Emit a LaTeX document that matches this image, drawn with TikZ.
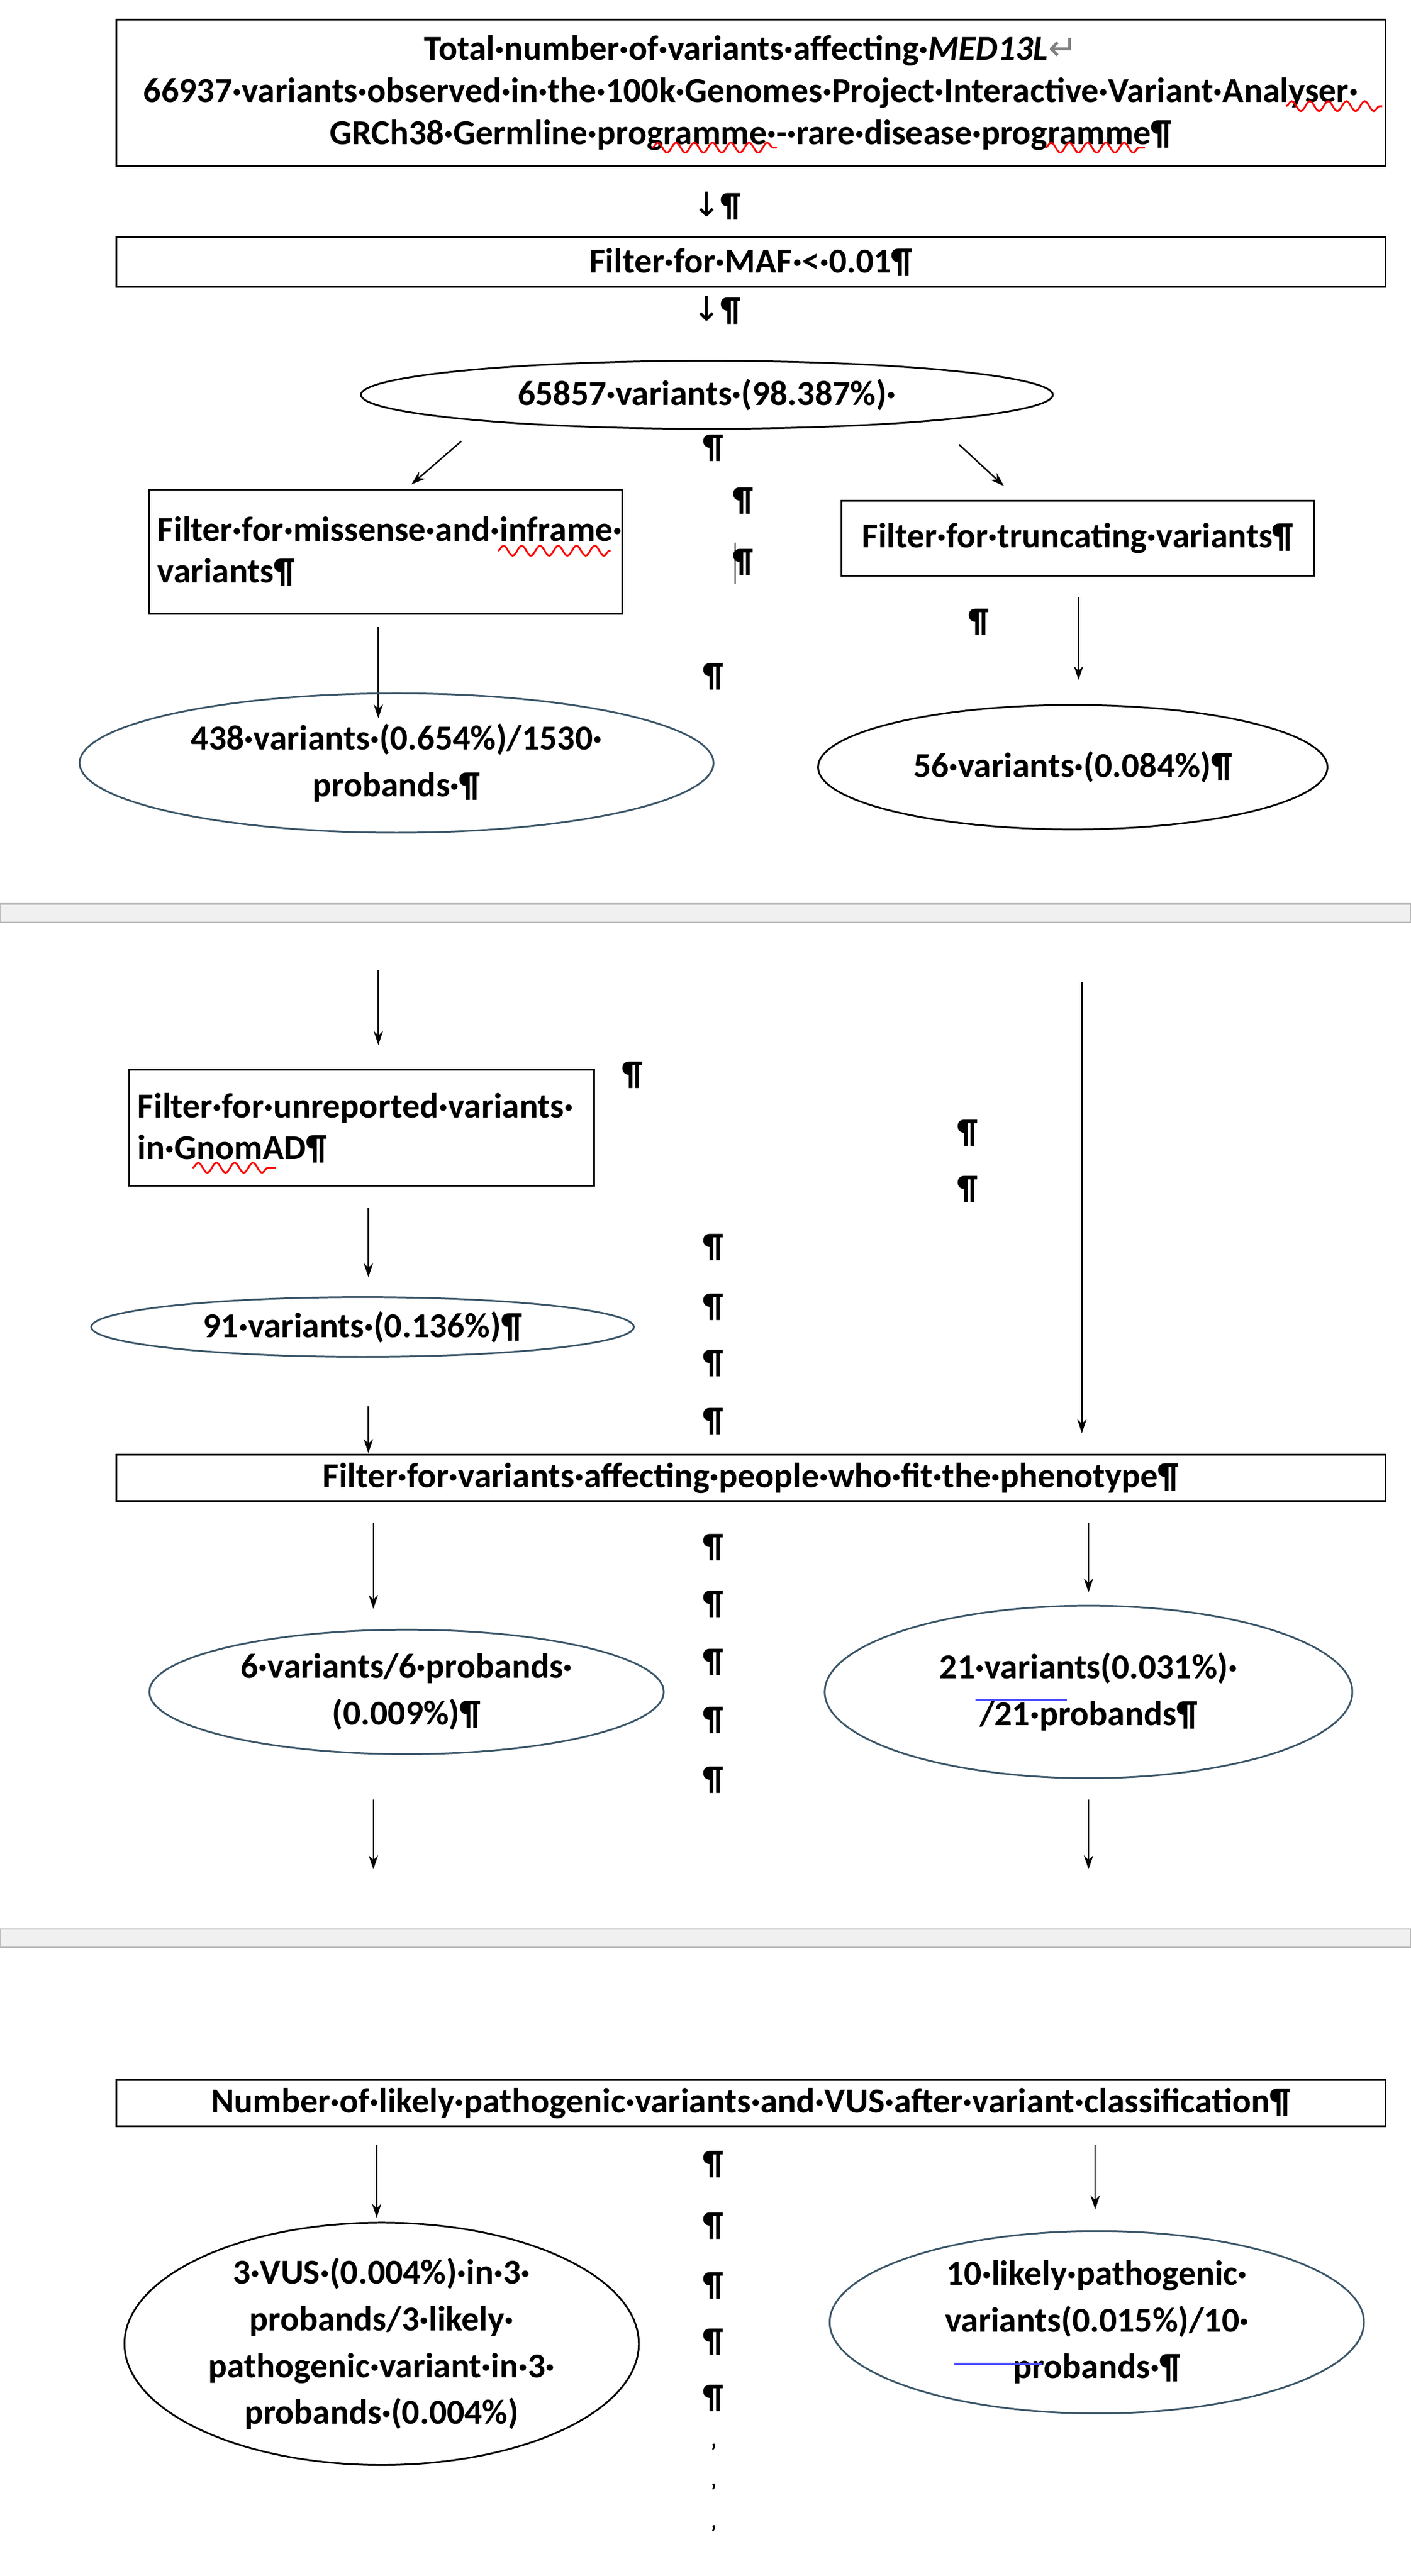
\documentclass[tikz,border=0pt]{standalone}
\usepackage{fontspec}
\setmainfont{Carlito}
\newfontfamily\djv{DejaVu Sans}
\usetikzlibrary{shapes.geometric,arrows.meta,decorations.pathmorphing}
\tikzset{
 box/.style={draw,line width=3pt,inner sep=0pt,font=\fontsize{60}{72}\selectfont\bfseries,align=center},
 ell/.style={draw,ellipse,line width=3pt,inner sep=0pt,font=\fontsize{60}{80}\selectfont\bfseries,align=center},
 slate/.style={draw=slatec},
 arr/.style={line width=2.5pt,-{Stealth[length=24pt,width=16pt]}},
 pil/.style={font=\fontsize{58}{60}\selectfont\bfseries,inner sep=0pt},
 sq/.style={red,line width=3pt,decorate,decoration={snake,amplitude=0.3cm,segment length=1.1cm}},
 ul/.style={blue!70,line width=4pt},
 sep/.style={fill=gray!12,draw=gray!55,line width=2.5pt}
}
\definecolor{slatec}{HTML}{3A5568}
\begin{document}
\begin{tikzpicture}[x=0.1cm,y=-0.1cm]
\useasboundingbox (0,0) rectangle (850,1553);
\fill[white] (0,0) rectangle (850,1553);
% top
\node[box,minimum width=76.5cm,minimum height=8.8cm] (top) at (452.5,56) {Total·number·of·variants·affecting·\textit{MED13L}{\djv\mdseries\color{gray}↵}\\66937·variants·observed·in·the·100k·Genomes·Project·Interactive·Variant·Analyser·\\GRCh38·Germline·programme·-·rare·disease·programme¶};
\node[pil] (a1) at (432,124) {{\djv\mdseries↓}¶};
\node[box,minimum width=76.5cm,minimum height=3cm] (maf) at (452.5,158) {Filter·for·MAF·<·0.01¶};
\node[pil] (a2) at (432,187) {{\djv\mdseries↓}¶};
\node[ell,minimum width=41.7cm,minimum height=4.1cm] (e1) at (426,238) {65857·variants·(98.387\%)·};
\coordinate (d1s) at (278,266); \coordinate (d1e) at (248,292);
\coordinate (d2s) at (578,268); \coordinate (d2e) at (605,293);
\draw[arr] (d1s) -- (d1e); \draw[arr] (d2s) -- (d2e);
\node[pil] at (430,270) {¶};
\node[pil] at (448,302) {¶};
\node[pil] at (448,339) {¶};
\draw[line width=2.5pt] (443,327) -- (443,352);
\node[pil] at (590,375) {¶};
\node[pil] at (430,408) {¶};
\node[box,minimum width=28.5cm,minimum height=7.5cm,align=left,text width=27.5cm] (mis) at (232.5,332.5) {Filter·for·missense·and·inframe·\\variants¶};
\node[box,minimum width=28.5cm,minimum height=4.5cm] (trunc) at (649.5,324.5) {Filter·for·truncating·variants¶};
\coordinate (m1) at (228,378); \coordinate (m2) at (228,433);
\coordinate (t1) at (650,360); \coordinate (t2) at (650,410);
\draw[arr] (m1) -- (m2); \draw[arr] (t1) -- (t2);
\node[ell,slate,minimum width=38.2cm,minimum height=8.4cm] (e438) at (239,460) {438·variants·(0.654\%)/1530·\\probands·¶};
\node[ell,minimum width=30.7cm,minimum height=7.5cm] (e56) at (646.5,462.5) {56·variants·(0.084\%)¶};
% separator 1
\draw[sep] (0,545) rectangle (850,556);
% middle
\coordinate (m3) at (228,585); \coordinate (m4) at (228,630);
\coordinate (t3) at (652,592); \coordinate (t4) at (652,864);
\draw[arr] (m3) -- (m4); \draw[arr] (t3) -- (t4);
\node[box,minimum width=28cm,minimum height=7cm,align=left,text width=27cm] (unr) at (218,680) {Filter·for·unreported·variants·\\in·GnomAD¶};
\node[pil] at (381,648) {¶};
\node[pil] at (583,683) {¶};
\node[pil] at (583,717) {¶};
\coordinate (m5) at (222,728); \coordinate (m6) at (222,770);
\draw[arr] (m5) -- (m6);
\node[ell,slate,minimum width=32.7cm,minimum height=3.6cm] (e91) at (218.5,800) {91·variants·(0.136\%)¶};
\foreach \y in {752,788,822,857} \node[pil] at (430,\y) {¶};
\coordinate (m7) at (222,848); \coordinate (m8) at (222,876);
\draw[arr] (m7) -- (m8);
\node[box,minimum width=76.5cm,minimum height=2.8cm] (phen) at (452.5,891) {Filter·for·variants·affecting·people·who·fit·the·phenotype¶};
\coordinate (m9) at (225,918); \coordinate (m10) at (225,970);
\coordinate (t5) at (656,918); \coordinate (t6) at (656,960);
\draw[arr] (m9) -- (m10); \draw[arr] (t5) -- (t6);
\foreach \y in {933,967,1002,1037,1073} \node[pil] at (430,\y) {¶};
\node[ell,slate,minimum width=31cm,minimum height=7.5cm] (e6) at (245,1020) {6·variants/6·probands·\\(0.009\%)¶};
\node[ell,slate,minimum width=31.8cm,minimum height=10.4cm] (e21) at (656,1020) {21·variants(0.031\%)·\\/21·probands¶};
\draw[ul] (588,1025) -- (643,1025);
\coordinate (m11) at (225,1085); \coordinate (m12) at (225,1127);
\coordinate (t7) at (656,1085); \coordinate (t8) at (656,1127);
\draw[arr] (m11) -- (m12); \draw[arr] (t7) -- (t8);
% separator 2
\draw[sep] (0,1163) rectangle (850,1174);
% bottom
\node[box,minimum width=76.5cm,minimum height=2.8cm] (cls) at (452.5,1268) {Number·of·likely·pathogenic·variants·and·VUS·after·variant·classification¶};
\coordinate (m13) at (227,1293); \coordinate (m14) at (227,1337);
\coordinate (t9) at (660,1293); \coordinate (t10) at (660,1332);
\draw[arr] (m13) -- (m14); \draw[arr] (t9) -- (t10);
\foreach \y in {1305,1342,1378,1412,1446} \node[pil] at (430,\y) {¶};
\foreach \y in {1478,1502,1527} \node[pil,font=\fontsize{36}{40}\selectfont\bfseries] at (430,\y) {'};
\node[ell,minimum width=31cm,minimum height=14.6cm] (evus) at (230,1413) {3·VUS·(0.004\%)·in·3·\\probands/3·likely·\\pathogenic·variant·in·3·\\probands·(0.004\%)};
\node[ell,slate,minimum width=32.2cm,minimum height=11cm] (e10) at (661,1400) {10·likely·pathogenic·\\variants(0.015\%)/10·\\probands·¶};
\draw[ul] (575,1425) -- (628,1425);
% spell squiggles
\draw[sq] (775,64) -- (833,64);
\draw[sq] (393,89) -- (468,89);
\draw[sq] (630,89) -- (690,89);
\draw[sq] (300,332) -- (368,332);
\draw[sq] (116,704) -- (166,704);
\end{tikzpicture}
\end{document}
